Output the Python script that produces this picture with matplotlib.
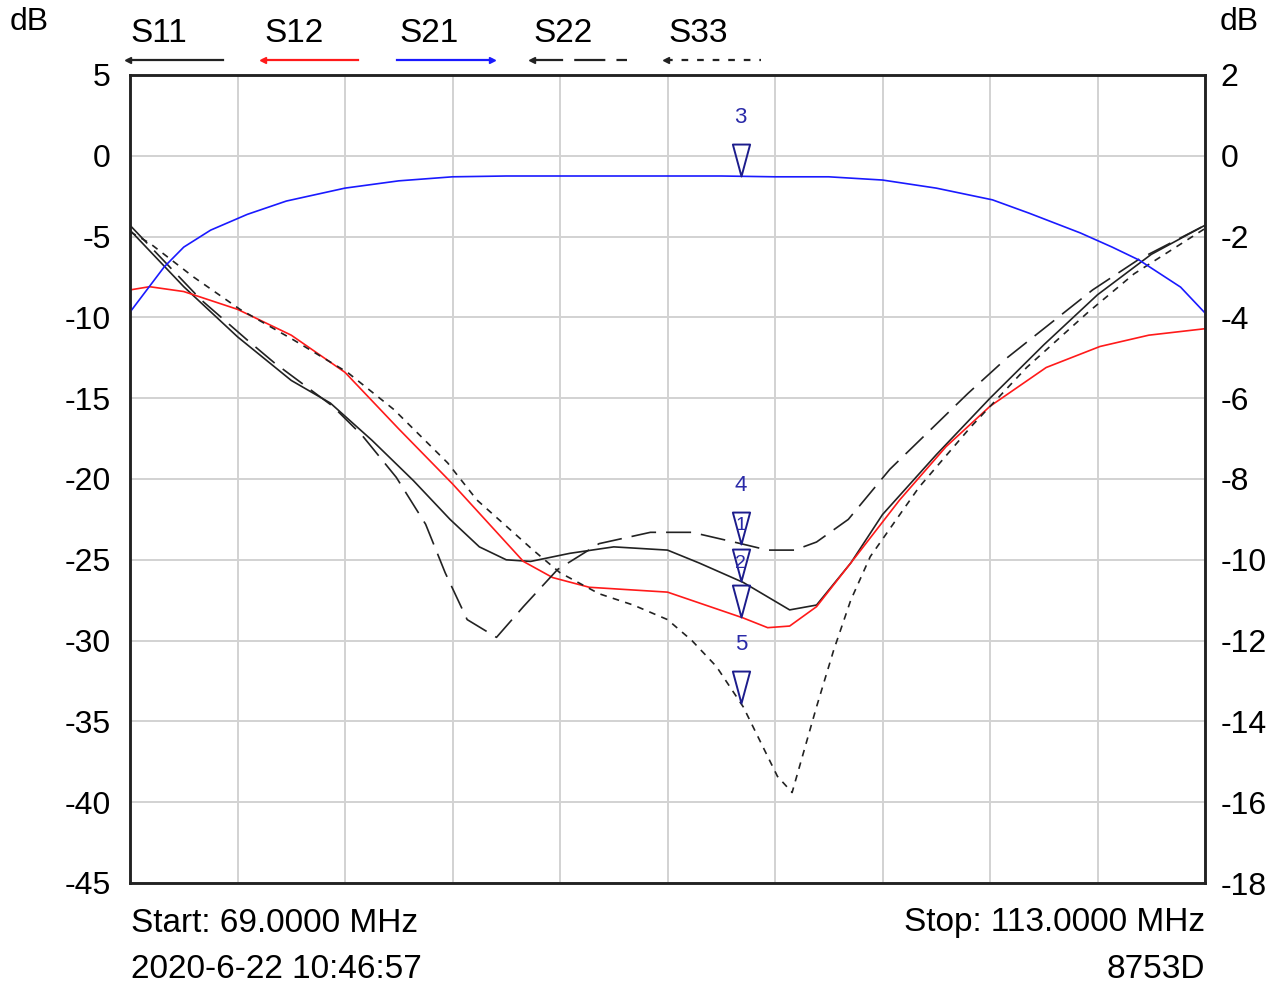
import numpy as np
import matplotlib
matplotlib.use("Agg")
import matplotlib.pyplot as plt
from matplotlib.lines import Line2D
from matplotlib.path import Path

plt.rcParams['font.family'] = ['Liberation Sans', 'DejaVu Sans']
plt.rcParams['axes.unicode_minus'] = False

# frequency sweep, MHz
f_start, f_stop = 69.0, 113.0

# S11 (solid black, left axis)
s11_f = [69.0, 71.2, 73.4, 75.6, 77.2, 78.9, 80.6, 82.1, 83.3, 84.4, 85.4, 87.0, 88.8,
         91.0, 92.3, 94.1, 96.0, 97.1, 98.5, 99.8, 102.0, 104.2, 106.4, 108.6, 110.8, 113.0]
s11_db = [-4.6, -8.1, -11.2, -13.9, -15.3, -17.6, -20.1, -22.5, -24.2, -25.0, -25.1, -24.6, -24.2,
          -24.4, -25.2, -26.4, -28.1, -27.8, -25.2, -22.2, -18.5, -15.0, -11.7, -8.6, -6.1, -4.3]

# S12 (red, left axis)
s12_f = [69.0, 69.8, 71.2, 73.4, 75.6, 77.8, 80.0, 82.2, 85.1, 86.3, 87.8, 91.0,
         94.1, 95.1, 96.0, 97.1, 98.5, 100.5, 102.4, 104.2, 106.5, 108.7, 110.7, 113.0]
s12_db = [-8.3, -8.1, -8.4, -9.5, -11.1, -13.4, -16.9, -20.3, -25.1, -26.1, -26.7, -27.0,
          -28.6, -29.2, -29.1, -27.9, -25.2, -21.3, -18.0, -15.5, -13.1, -11.8, -11.1, -10.7]

# S21 (blue, right axis)
s21_f = [69.0, 70.4, 71.2, 72.3, 73.8, 75.4, 77.8, 80.0, 82.2, 84.4, 86.6, 88.8, 91.0,
         93.2, 95.4, 97.6, 99.8, 102.0, 104.3, 105.8, 107.9, 109.2, 110.3, 112.0, 113.0]
s21_db = [-3.87, -2.75, -2.26, -1.84, -1.45, -1.12, -0.80, -0.62, -0.52, -0.50, -0.50, -0.50, -0.50,
          -0.50, -0.52, -0.52, -0.60, -0.80, -1.09, -1.42, -1.91, -2.26, -2.58, -3.25, -3.89]

# S22 (long dash, left axis)
s22_f = [69.0, 71.9, 73.8, 74.9, 77.3, 78.5, 79.9, 81.1, 81.9, 82.8, 84.0, 85.1, 86.5, 88.2,
         90.3, 92.0, 94.0, 95.1, 96.2, 97.1, 98.4, 100.1, 103.3, 104.9, 108.4, 110.3, 113.0]
s22_db = [-4.3, -8.9, -11.4, -12.8, -15.5, -17.3, -19.9, -22.8, -25.8, -28.7, -29.8, -27.9, -25.6, -24.0,
          -23.3, -23.3, -24.0, -24.4, -24.4, -23.9, -22.5, -19.4, -14.7, -12.5, -8.3, -6.4, -4.3]

# S33 (short dash, left axis)
s33_f = [69.0, 69.8, 71.6, 73.5, 75.7, 77.9, 79.8, 82.0, 83.2, 85.5, 86.6, 88.2, 89.6, 91.0,
         92.0, 93.0, 94.1, 95.5, 96.1, 97.1, 97.8, 98.5, 99.3, 101.3, 103.4, 105.7, 108.2, 110.1, 113.0]
s33_db = [-4.7, -5.4, -7.5, -9.5, -11.4, -13.4, -15.7, -19.0, -21.3, -24.4, -25.8, -27.1, -27.8, -28.7,
          -30.0, -31.6, -34.1, -38.4, -39.4, -34.1, -30.6, -27.5, -24.8, -20.5, -16.8, -13.1, -9.7, -7.3, -4.5]

marker_freq = 94.0
legend_names = ["S11", "S12", "S21", "S22", "S33"]

fig = plt.figure(figsize=(12.77, 9.9), dpi=100)
W, H = 1277, 990
ax = fig.add_axes([130 / W, 1 - 883 / H, 1075 / W, 808 / H])
ax2 = ax.twinx()

ax.set_xlim(f_start, f_stop)
ax.set_ylim(-45, 5)
ax2.set_ylim(-18, 2)
ax.set_xticks(np.linspace(f_start, f_stop, 11))
ax.set_xticklabels([])
ax.set_yticks(np.arange(-45, 6, 5))
ax2.set_yticks(np.arange(-18, 3, 2))
ax.tick_params(axis='both', length=0, labelsize=23, pad=14)
ax2.tick_params(axis='y', length=0, labelsize=23, pad=11)
ax.grid(True, color='#d2d2d2', lw=1.4)
ax.set_axisbelow(True)
for a in (ax, ax2):
    for sp in a.spines.values():
        sp.set_linewidth(1.8)
        sp.set_color('#222222')

lw = 1.2
ax.plot(s11_f, s11_db, color='#222222', lw=lw)
ax.plot(s12_f, s12_db, color='#ff1a1a', lw=lw)
ax.plot(s22_f, s22_db, color='#222222', lw=lw, dashes=(15, 6))
ax.plot(s33_f, s33_db, color='#222222', lw=lw, dashes=(4, 3.8))
ax2.plot(s21_f, s21_db, color='#1a1aff', lw=lw)

# marker triangles, tip at the trace
tri = Path([(-0.27, 1.0), (0.27, 1.0), (0.0, 0.0), (-0.27, 1.0)],
           [Path.MOVETO, Path.LINETO, Path.LINETO, Path.CLOSEPOLY])
mk = dict(marker=tri, markersize=46, markerfacecolor='none',
          markeredgecolor='#1c1c8c', markeredgewidth=1.4, linestyle='none')
lab = dict(textcoords='offset points', ha='center', va='center',
           color='#2a2aa8', fontsize=16)

y3 = np.interp(marker_freq, s21_f, s21_db)
ax2.plot([marker_freq], [y3], **mk)
ax2.annotate("3", (marker_freq, y3), xytext=(0, 42), **lab)

y1 = np.interp(marker_freq, s22_f, s22_db)
y2 = np.interp(marker_freq, s11_f, s11_db)
y4 = np.interp(marker_freq, s12_f, s12_db)
y5 = np.interp(marker_freq, s33_f, s33_db)
ax.plot([marker_freq] * 4, [y1, y2, y4, y5], **mk)
ax.annotate("4", (marker_freq, y1), xytext=(0, 42), **lab)
ax.annotate("1", (marker_freq, y1), xytext=(0, 13), **dict(lab, fontsize=14))
ax.annotate("2", (marker_freq, y2), xytext=(0, 13), **dict(lab, fontsize=14))
ax.annotate("5", (marker_freq, y5), xytext=(0, 42), **lab)

# legend row across the top
styles = [dict(color='#222222', ls='-'), dict(color='#ff1a1a', ls='-'),
          dict(color='#1a1aff', ls='-'), dict(color='#222222', dashes=(14, 5)),
          dict(color='#222222', dashes=(3, 4))]
arrow_right = [False, False, True, False, False]
for i, name in enumerate(legend_names):
    x0 = 130 + 134.5 * i
    fig.text(x0 / W, 1 - 33 / H, name, fontsize=24, ha='left', va='center')
    xa, xb = (x0 - 2) / W, (x0 + 93) / W
    yl = 1 - 60 / H
    st = styles[i]
    fig.add_artist(Line2D([xa, xb], [yl, yl], transform=fig.transFigure, lw=1.6, **st))
    tip = xb if arrow_right[i] else xa
    fig.add_artist(Line2D([tip], [yl], transform=fig.transFigure,
                          marker='>' if arrow_right[i] else '<', markersize=5,
                          color=st['color'], linestyle='none'))

fig.text(29 / W, 1 - 22 / H, "dB", fontsize=23, ha='center', va='center')
fig.text(1239 / W, 1 - 22 / H, "dB", fontsize=23, ha='center', va='center')

fig.text(131 / W, 1 - 923 / H, "Start: 69.0000 MHz", fontsize=24, ha='left', va='center')
fig.text(131 / W, 1 - 970 / H, "2020-6-22 10:46:57", fontsize=24, ha='left', va='center')
fig.text(1205 / W, 1 - 923 / H, "Stop: 113.0000 MHz", fontsize=24, ha='right', va='center')
fig.text(1205 / W, 1 - 970 / H, "8753D", fontsize=24, ha='right', va='center')

fig.savefig("out.png", dpi=100)
